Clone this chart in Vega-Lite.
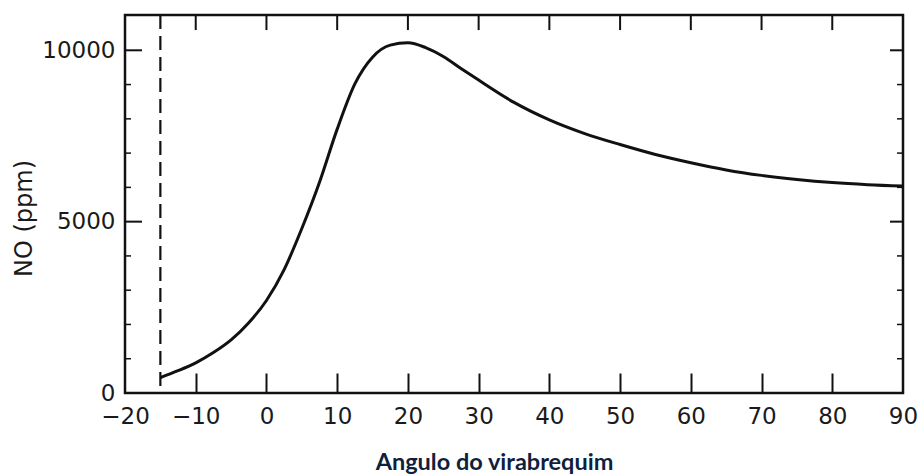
{
  "$schema": "https://vega.github.io/schema/vega-lite/v6.json",
  "width": 778,
  "height": 378,
  "autosize": {"type": "none"},
  "padding": {"left": 125, "top": 15, "right": 19, "bottom": 82},
  "background": "white",
  "config": {
    "view": {"stroke": "#111", "strokeWidth": 2.5},
    "axis": {
      "labelFont": "DejaVu Sans",
      "labelFontSize": 23,
      "labelColor": "#1a1a1a",
      "titleFont": "DejaVu Sans"
    }
  },
  "datasets": {
    "curve": [
      {"angle": -15, "no": 450},
      {"angle": -12.5, "no": 650},
      {"angle": -10, "no": 880},
      {"angle": -7.5, "no": 1180},
      {"angle": -5, "no": 1550},
      {"angle": -2.5, "no": 2050},
      {"angle": 0, "no": 2700},
      {"angle": 2.5, "no": 3600},
      {"angle": 5, "no": 4800},
      {"angle": 7.5, "no": 6150},
      {"angle": 10, "no": 7700},
      {"angle": 12.5, "no": 9020},
      {"angle": 15, "no": 9800},
      {"angle": 17.5, "no": 10150},
      {"angle": 20, "no": 10220},
      {"angle": 22.5, "no": 10080},
      {"angle": 25, "no": 9820},
      {"angle": 27.5, "no": 9470},
      {"angle": 30, "no": 9130},
      {"angle": 35, "no": 8480},
      {"angle": 40, "no": 7970},
      {"angle": 45, "no": 7570},
      {"angle": 50, "no": 7250},
      {"angle": 55, "no": 6960},
      {"angle": 60, "no": 6720},
      {"angle": 65, "no": 6510},
      {"angle": 70, "no": 6350},
      {"angle": 75, "no": 6230},
      {"angle": 80, "no": 6140},
      {"angle": 85, "no": 6080},
      {"angle": 90, "no": 6040}
    ],
    "xTicks": [
      {"t": -10}, {"t": 0}, {"t": 10}, {"t": 20}, {"t": 30},
      {"t": 40}, {"t": 50}, {"t": 60}, {"t": 70}, {"t": 80}
    ],
    "yMajor": [{"v": 5000}, {"v": 10000}],
    "yMinor": [
      {"v": 1000}, {"v": 2000}, {"v": 3000}, {"v": 4000},
      {"v": 6000}, {"v": 7000}, {"v": 8000}, {"v": 9000}
    ],
    "marker": [{"angle": -15}]
  },
  "layer": [
    {
      "data": {"name": "curve"},
      "mark": {"type": "line", "color": "#111", "strokeWidth": 3, "interpolate": "monotone"},
      "encoding": {
        "x": {
          "field": "angle", "type": "quantitative",
          "scale": {"domain": [-20, 90], "nice": false, "zero": false},
          "axis": {
            "orient": "bottom",
            "values": [-20, -10, 0, 10, 20, 30, 40, 50, 60, 70, 80, 90],
            "domain": false, "grid": false,
            "ticks": false,
            "labelPadding": 12,
            "labelFlush": false,
            "title": "Angulo do virabrequim",
            "titleFont": "Lato",
            "titleFontWeight": "bold",
            "titleFontSize": 23.5,
            "titleColor": "#0f1f3d",
            "titleX": 369,
            "titleY": 76,
            "titleBaseline": "alphabetic",
            "titleAlign": "center"
          }
        },
        "y": {
          "field": "no", "type": "quantitative",
          "scale": {"domain": [0, 11030], "nice": false},
          "axis": {
            "orient": "left",
            "values": [0, 5000, 10000],
            "format": "d",
            "domain": false, "grid": false,
            "ticks": false,
            "labelPadding": 10,
            "title": "NO (ppm)",
            "titleFontSize": 24,
            "titleFontWeight": "normal",
            "titleColor": "#1a1a1a",
            "titleX": -101,
            "titleY": 203,
            "titleAngle": -90,
            "titleBaseline": "middle",
            "titleAlign": "center"
          }
        }
      }
    },
    {
      "data": {"name": "curve"},
      "mark": {"type": "line", "opacity": 0},
      "encoding": {
        "x": {
          "field": "angle", "type": "quantitative",
          "axis": {"orient": "bottom", "values": [-10, 0, 10, 20, 30, 40, 50, 60, 70, 80], "domainOpacity": 0, "grid": false, "tickColor": "#111", "tickWidth": 2, "tickSize": 20, "offset": -20, "labels": false, "title": null}
        },
        "y": {"field": "no", "type": "quantitative", "axis": null}
      }
    },
    {
      "data": {"name": "xTicks"},
      "mark": {"type": "rule", "color": "#111", "strokeWidth": 2},
      "encoding": {
        "x": {"field": "t", "type": "quantitative", "axis": null},
        "y": {"datum": 11030, "type": "quantitative", "axis": null},
        "y2": {"datum": 10590}
      }
    },
    {
      "data": {"name": "yMajor"},
      "mark": {"type": "rule", "color": "#111", "strokeWidth": 2},
      "encoding": {
        "y": {"field": "v", "type": "quantitative", "axis": null},
        "x": {"datum": -20, "type": "quantitative", "axis": null},
        "x2": {"datum": -17.6}
      }
    },
    {
      "data": {"name": "yMajor"},
      "mark": {"type": "rule", "color": "#111", "strokeWidth": 2},
      "encoding": {
        "y": {"field": "v", "type": "quantitative", "axis": null},
        "x": {"datum": 90, "type": "quantitative", "axis": null},
        "x2": {"datum": 88.16}
      }
    },
    {
      "data": {"name": "yMinor"},
      "mark": {"type": "rule", "color": "#111", "strokeWidth": 1.5},
      "encoding": {
        "y": {"field": "v", "type": "quantitative", "axis": null},
        "x": {"datum": -20, "type": "quantitative", "axis": null},
        "x2": {"datum": -19.15}
      }
    },
    {
      "data": {"name": "yMinor"},
      "mark": {"type": "rule", "color": "#111", "strokeWidth": 1.5},
      "encoding": {
        "y": {"field": "v", "type": "quantitative", "axis": null},
        "x": {"datum": 90, "type": "quantitative", "axis": null},
        "x2": {"datum": 89.15}
      }
    },
    {
      "data": {"name": "marker"},
      "mark": {"type": "rule", "color": "#111", "strokeWidth": 2.2, "strokeDash": [14, 7]},
      "encoding": {
        "x": {"field": "angle", "type": "quantitative", "axis": null}
      }
    }
  ],
  "resolve": {"axis": {"x": "independent", "y": "independent"}}
}
